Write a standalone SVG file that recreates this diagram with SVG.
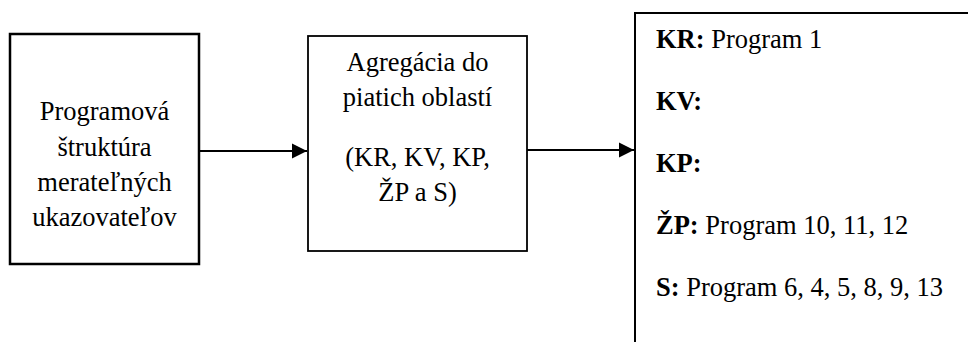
<svg xmlns="http://www.w3.org/2000/svg" width="968" height="342" viewBox="0 0 968 342">
  <style>
    .box { fill: #ffffff; stroke: #000000; }
    .conn { stroke: #000000; stroke-width: 2; fill: none; }
  </style>
  <defs>
    <marker id="arrow" markerUnits="userSpaceOnUse" markerWidth="16" markerHeight="16" refX="15" refY="8" orient="auto">
      <path d="M0,0.5 L15,8 L0,15.5 Z" fill="#000000"/>
    </marker>
  </defs>
  <rect width="968" height="342" fill="#ffffff"/>

  <g id="node-programova">
    <rect class="box" x="10" y="34" width="189" height="230" stroke-width="2.5"/>
    <g font-family="Liberation Serif, serif" font-size="26.5" text-anchor="middle" fill="#000000">
      <text x="104.5" y="120">Programová</text>
      <text x="104.5" y="156">štruktúra</text>
      <text x="104.5" y="191">merateľných</text>
      <text x="104.5" y="226">ukazovateľov</text>
    </g>
  </g>

  <g id="node-agregacia">
    <rect class="box" x="308" y="36" width="219" height="215" stroke-width="1.8"/>
    <g font-family="Liberation Serif, serif" font-size="26.5" text-anchor="middle" fill="#000000">
      <text x="417.5" y="71">Agregácia do</text>
      <text x="417.5" y="106">piatich oblastí</text>
      <text x="417.5" y="166">(KR, KV, KP,</text>
      <text x="417.5" y="201">ŽP a S)</text>
    </g>
  </g>

  <g id="node-oblasti">
    <rect class="box" x="635" y="13" width="345" height="345" stroke-width="2"/>
    <g font-family="Liberation Serif, serif" font-size="26.5" fill="#000000">
      <text x="656" y="48"><tspan font-weight="bold">KR:</tspan> Program 1</text>
      <text x="656" y="110"><tspan font-weight="bold">KV:</tspan></text>
      <text x="656" y="172"><tspan font-weight="bold">KP:</tspan></text>
      <text x="656" y="234"><tspan font-weight="bold">ŽP:</tspan> Program 10, 11, 12</text>
      <text x="656" y="296"><tspan font-weight="bold">S:</tspan> Program 6, 4, 5, 8, 9, 13</text>
    </g>
  </g>

  <g id="connectors">
    <line class="conn" x1="199" y1="151" x2="307" y2="151" marker-end="url(#arrow)"/>
    <line class="conn" x1="527" y1="150" x2="634" y2="150" marker-end="url(#arrow)"/>
  </g>
</svg>
